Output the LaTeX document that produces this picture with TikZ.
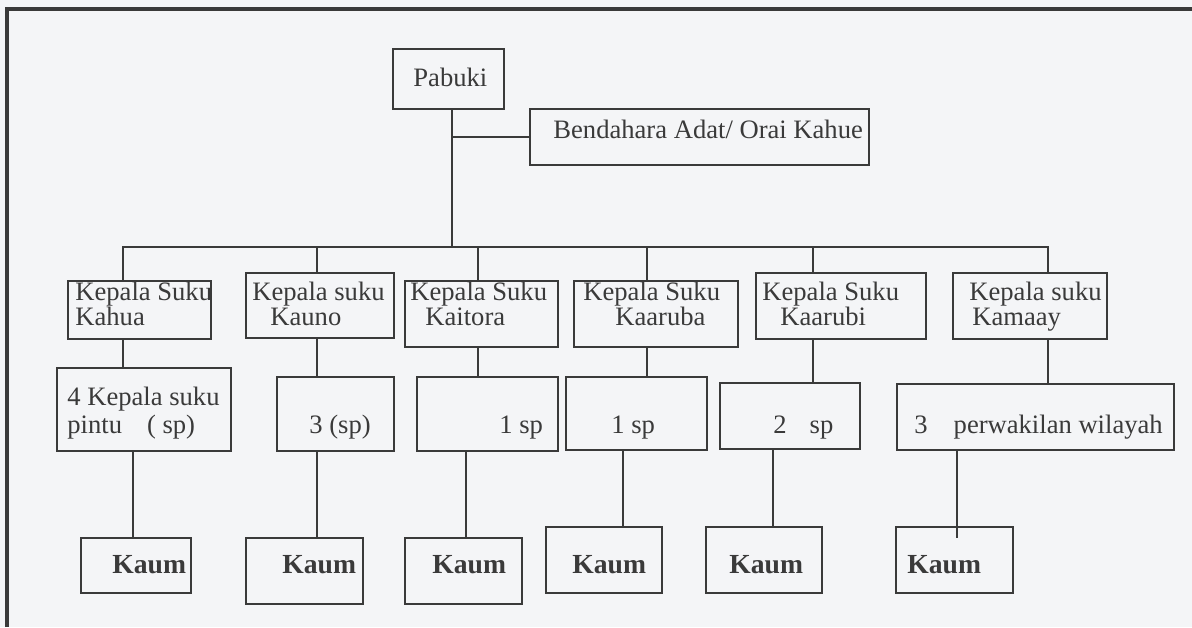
\documentclass[tikz,border=0pt]{standalone}
\usepackage{fontspec}
\setmainfont{Liberation Serif}
\usetikzlibrary{fit}
\definecolor{ink}{HTML}{3A3A3A}
\definecolor{paper}{HTML}{F4F5F7}
\tikzset{
	kotak/.style={draw=ink, line width=1.1pt, inner sep=0pt},
	teks/.style={anchor=base west, inner sep=0pt, align=left, text=ink, font=\fontsize{13.3}{12.5}\selectfont},
	kaumteks/.style={teks, font=\fontsize{13.8}{14}\selectfont\bfseries},
	garis/.style={draw=ink, line width=1.1pt, line cap=rect},
}
\def\kotak(#1)(#2)(#3){\node[kotak, fit={(#2) (#3)}] (#1) {};}

\begin{document}
\begin{tikzpicture}[x=0.5pt, y=-0.5pt]
		%%%%% START %%%%%
		\useasboundingbox (0,0) rectangle (1192,627);
		\fill[paper] (0,0) rectangle (1192,627);
		\draw[ink, line width=1.6pt] (7,627) -- (7,9) -- (1192,9);
		
		% pimpinan
		\kotak(pabuki)(393,49)(504,109)
		\kotak(bendahara)(530,109)(869,165)
		\node[teks] (pabuki-t) at (413,86) {Pabuki};
		\node[teks] (bendahara-t) at (553,138) {Bendahara Adat/ Orai Kahue};
		
		% kepala suku (base = baris terakhir)
		\kotak(kahua)(68,281)(211,339)
		\kotak(kauno)(246,273)(394,338)
		\kotak(kaitora)(405,281)(558,347)
		\kotak(kaaruba)(574,281)(738,347)
		\kotak(kaarubi)(756,273)(926,339)
		\kotak(kamaay)(953,273)(1107,339)
		\node[teks] (kahua-t) at (75,325) {Kepala Suku\\Kahua};
		\node[teks] (kauno-t) at (252,325) {Kepala suku\\\hspace*{9pt}Kauno};
		\node[teks] (kaitora-t) at (410,325) {Kepala Suku\\\hspace*{7.5pt}Kaitora};
		\node[teks] (kaaruba-t) at (583,325) {Kepala Suku\\\hspace*{16pt}Kaaruba};
		\node[teks] (kaarubi-t) at (762,325) {Kepala Suku\\\hspace*{9pt}Kaarubi};
		\node[teks] (kamaay-t) at (969,325) {Kepala suku\\\hspace*{1.5pt}Kamaay};
		
		% suku pintu
		\kotak(sp1)(57,368)(231,451)
		\kotak(sp2)(277,377)(394,451)
		\kotak(sp3)(417,377)(558,451)
		\kotak(sp4)(566,377)(707,450)
		\kotak(sp5)(720,383)(860,449)
		\kotak(sp6)(897,384)(1174,450)
		\node[teks] (sp1-t) at (67,433) {4 Kepala suku\\[1.5pt]pintu\hspace{12.5pt}( sp)};
		\node[teks] (sp2-t) at (309,433) {3 (sp)};
		\node[teks] (sp3-t) at (499,433) {1 sp};
		\node[teks] (sp4-t) at (611,433) {1 sp};
		\node[teks] (sp5-t) at (773,433) {2\hspace{11.5pt}sp};
		\node[teks] (sp6-t) at (914,433) {3\hspace{13pt}perwakilan wilayah};
		
		% kaum
		\kotak(kaum1)(81,538)(191,593)
		\kotak(kaum2)(246,538)(363,604)
		\kotak(kaum3)(405,538)(522,604)
		\kotak(kaum4)(546,527)(662,593)
		\kotak(kaum5)(706,527)(822,593)
		\kotak(kaum6)(896,527)(1013,593)
		\foreach \k/\x in {1/112, 2/282, 3/432, 4/572, 5/729, 6/907}
			\node[kaumteks] (kaum\k-t) at (\x,573) {Kaum};
		
		% garis
		\coordinate (cabang) at (452,247);
		\coordinate (busL) at (123,247);
		\coordinate (busR) at (1048,247);
		\draw[garis] (pabuki.south -| cabang) -- (cabang);
		\draw[garis] (cabang |- bendahara.west) -- (bendahara.west);
		\draw[garis] (busL) -- (busR);
		\foreach \a/\b/\x in {kahua/sp1/123, kauno/sp2/317, kaitora/sp3/478, kaaruba/sp4/647, kaarubi/sp5/813, kamaay/sp6/1048} {
			\draw[garis] (\x,247) -- (\a.north -| \x,0);
			\draw[garis] (\a.south -| \x,0) -- (\b.north -| \x,0);
		}
		\foreach \a/\b/\x in {sp1/kaum1/133, sp2/kaum2/317, sp3/kaum3/466, sp4/kaum4/623, sp5/kaum5/773, sp6/kaum6/957}
			\draw[garis] (\a.south -| \x,0) -- (\b.north -| \x,0);
		\draw[garis] (kaum6.north -| 957,0) -- ++(0,11);
		
		%%%%% END %%%%%
\end{tikzpicture}
\end{document}
